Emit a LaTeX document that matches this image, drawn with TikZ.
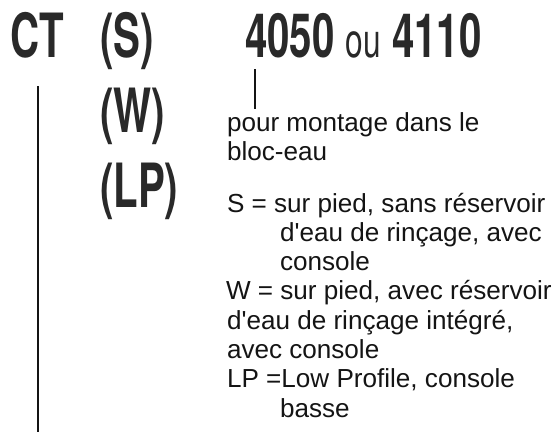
\documentclass[tikz,border=0pt]{standalone}
\usepackage{fontspec}
\newfontfamily\bodyfont{Liberation Sans}
\newfontfamily\headbold[FakeStretch=0.66]{TeX Gyre Heros Bold}
\newfontfamily\headreg[FakeStretch=0.66]{TeX Gyre Heros}
\definecolor{headc}{gray}{0.16}
\definecolor{bodyc}{gray}{0.08}
\begin{document}
\begin{tikzpicture}[x=1pt,y=-1pt,
  head/.style={anchor=base west,inner sep=0pt,outer sep=0pt,text=headc,font=\headbold\fontsize{61}{61}\selectfont},
  body/.style={anchor=base west,inner sep=0pt,outer sep=0pt,text=bodyc,font=\bodyfont\fontsize{26.1}{29}\selectfont},
  rule/.style={draw=bodyc,line width=1.5pt}]
\useasboundingbox (0,0) rectangle (556,432);
\node[head] (ct) at (10,57) {CT};
\node[head] (s) at (100,57) {(S)};
\node[head] (num) at (245,57) {4050 {\headreg\fontsize{48}{48}\selectfont ou} 4110};
\node[head] (w) at (100,132) {(W)};
\node[head] (lp) at (100,207) {(LP)};
\node[body] (l1) at (227,131) {pour montage dans le};
\node[body] (l2) at (227,160.5) {bloc-eau};
\node[body] (l3) at (227,212) {S = sur pied, sans réservoir};
\node[body] (l4) at (280,241.3) {d'eau de rinçage, avec};
\node[body] (l5) at (280,270.6) {console};
\node[body] (l6) at (226,299.9) {W = sur pied, avec réservoir};
\node[body] (l7) at (227,329.2) {d'eau de rinçage intégré,};
\node[body] (l8) at (227,358.5) {avec console};
\node[body] (l9) at (227,387.8) {LP =Low Profile, console};
\node[body] (l10) at (280,417.1) {basse};
\coordinate (cttop) at (38,86);
\coordinate (ctbot) at (38,432);
\coordinate (numtop) at (255,69);
\coordinate (numbot) at (255,109);
\draw[rule] (cttop) -- (ctbot);
\draw[rule] (numtop) -- (numbot);
\end{tikzpicture}
\end{document}
